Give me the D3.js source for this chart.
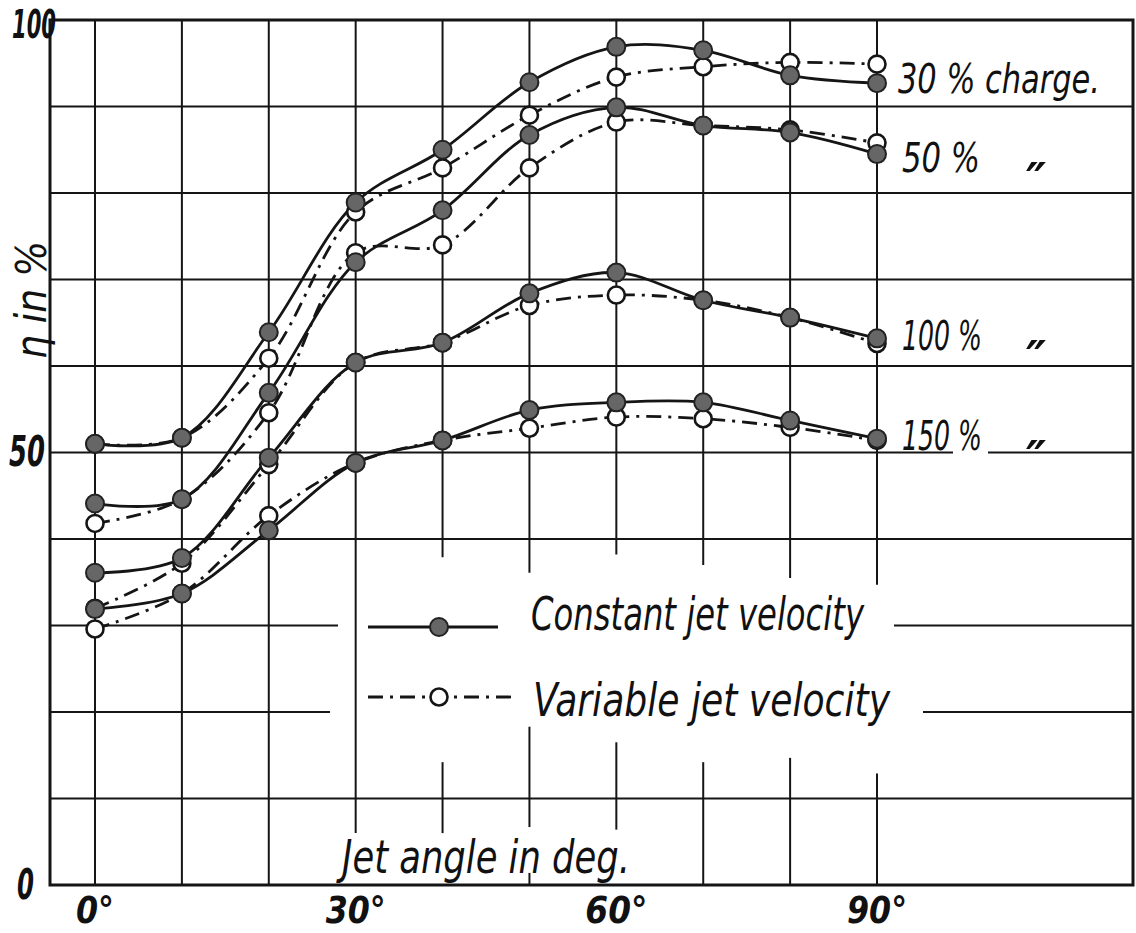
<!DOCTYPE html>
<html>
<head>
<meta charset="utf-8">
<script src="https://cdn.jsdelivr.net/npm/d3@7"></script>
<style>
  body { margin: 0; background: #fff; }
  text { font-family: "Liberation Sans Narrow", "DejaVu Sans Condensed", sans-serif; font-style: italic; fill: #111; }
</style>
</head>
<body>
<div id="vis"></div>
<script>
// Chart data
const ANGLES = [0, 10, 20, 30, 40, 50, 60, 70, 80, 90];

const CONST_30 = [51.0, 51.7, 63.9, 78.9, 85.0, 92.8, 96.9, 96.5, 93.6, 92.7];
const VAR_30   = [51.0, 51.7, 60.9, 77.8, 82.9, 89.0, 93.4, 94.6, 95.1, 94.9];

const CONST_50 = [44.1, 44.6, 56.9, 72.0, 78.0, 86.7, 89.9, 87.8, 87.0, 84.5];
const VAR_50   = [41.8, 44.6, 54.6, 73.1, 74.0, 82.9, 88.2, 87.8, 87.3, 85.8];

const CONST_100 = [36.1, 37.8, 49.4, 60.4, 62.7, 68.4, 70.8, 67.6, 65.6, 63.2];
const VAR_100   = [32.0, 37.2, 48.6, 60.4, 62.7, 67.0, 68.2, 67.6, 65.6, 62.6];

const CONST_150 = [31.9, 33.7, 41.0, 48.8, 51.4, 54.9, 55.8, 55.8, 53.7, 51.6];
const VAR_150   = [29.6, 33.7, 42.7, 48.8, 51.4, 52.8, 54.1, 53.9, 52.9, 51.4];

const CHARGE_LABELS = ["30 % charge.", "50 %", "100 %", "150 %"];
const X_TICKS = [0, 30, 60, 90];
const Y_TICKS = [0, 50, 100];
const H_GRID = [10, 20, 30, 40, 50, 60, 70, 80, 90];
const V_GRID = [0, 10, 20, 30, 40, 50, 60, 70, 80, 90];

// Frame
const WIDTH = 1136, HEIGHT = 933;
const FRAME = d3.select("#vis").append("svg")
                .attr("width", WIDTH)
                .attr("height", HEIGHT);

const LEFT = 50, RIGHT = 1133, TOP = 20, BOTTOM = 885;

const X_SCALE = d3.scaleLinear().domain([0, 90]).range([95, 877]);
const Y_SCALE = d3.scaleLinear().domain([0, 100]).range([BOTTOM, TOP]);

const INK = "#151515";

// broken grid segments (value units) per angle: [from, to]
const V_BREAKS = {
  30: [[6.0, 100]],
  40: [[6.0, 14.2], [37.9, 100]],
  50: [[0, 1.4], [6.7, 18.3], [36.1, 100]],
  60: [[6.4, 16.5], [38.2, 100]],
  70: [[0, 14.2], [37.0, 100]],
  80: [[0, 14.7], [35.5, 100]],
  90: [[0, 12.9], [34.7, 100]]
};
// horizontal breaks in pixel x (lines crossing legend / labels)
const H_BREAKS = {
  20: [[LEFT, 330], [923, RIGHT]],
  30: [[LEFT, 338], [894, RIGHT]],
  50: [[LEFT, 953], [988, RIGHT]]
};

const grid = FRAME.append("g").attr("stroke", INK).attr("stroke-width", 2);

H_GRID.forEach((v) => {
  const segs = H_BREAKS[v] || [[LEFT, RIGHT]];
  segs.forEach((s) => {
    grid.append("line")
        .attr("x1", s[0]).attr("x2", s[1])
        .attr("y1", Y_SCALE(v)).attr("y2", Y_SCALE(v));
  });
});

V_GRID.forEach((a) => {
  const segs = V_BREAKS[a] || [[0, 100]];
  segs.forEach((s) => {
    grid.append("line")
        .attr("x1", X_SCALE(a)).attr("x2", X_SCALE(a))
        .attr("y1", Y_SCALE(s[0])).attr("y2", Y_SCALE(s[1]));
  });
});

// border
FRAME.append("rect")
     .attr("x", LEFT).attr("y", TOP)
     .attr("width", RIGHT - LEFT).attr("height", BOTTOM - TOP)
     .attr("fill", "none")
     .attr("stroke", INK)
     .attr("stroke-width", 3);

// Series
const SERIES = [
  {constant: CONST_30, variable: VAR_30},
  {constant: CONST_50, variable: VAR_50},
  {constant: CONST_100, variable: VAR_100},
  {constant: CONST_150, variable: VAR_150}
];

const LINE = d3.line()
               .x((d) => X_SCALE(d[0]))
               .y((d) => Y_SCALE(d[1]))
               .curve(d3.curveCatmullRom.alpha(0.5));

const pairs = (vals) => ANGLES.map((a, i) => [a, vals[i]]);

const DASH = "15,7,3,7";
const lines = FRAME.append("g").attr("fill", "none").attr("stroke", INK).attr("stroke-width", 2.8);

SERIES.forEach((s) => {
  lines.append("path").attr("d", LINE(pairs(s.variable))).attr("stroke-dasharray", DASH);
  lines.append("path").attr("d", LINE(pairs(s.constant)));
});

// markers: open first, filled on top
const marks = FRAME.append("g");
SERIES.forEach((s) => {
  marks.selectAll(null)
       .data(pairs(s.variable))
       .enter()
       .append("circle")
         .attr("cx", (d) => X_SCALE(d[0]))
         .attr("cy", (d) => Y_SCALE(d[1]))
         .attr("r", 8.5)
         .attr("fill", "#fff")
         .attr("stroke", INK)
         .attr("stroke-width", 2.6);
});
SERIES.forEach((s) => {
  marks.selectAll(null)
       .data(pairs(s.constant))
       .enter()
       .append("circle")
         .attr("cx", (d) => X_SCALE(d[0]))
         .attr("cy", (d) => Y_SCALE(d[1]))
         .attr("r", 9)
         .attr("fill", "#666")
         .attr("stroke", "#222")
         .attr("stroke-width", 2);
});

// Axis labels
const X_LABEL_W = {0: 38, 30: 60, 60: 62, 90: 60};
FRAME.append("g").selectAll("text")
     .data(X_TICKS)
     .enter()
     .append("text")
       .attr("x", (d) => X_SCALE(d) - X_LABEL_W[d] / 2)
       .attr("y", 923)
       .attr("font-size", 38)
       .attr("font-weight", "bold")
       .attr("textLength", (d) => X_LABEL_W[d])
       .attr("lengthAdjust", "spacingAndGlyphs")
       .text((d) => d + "°");

const Y_LABEL_POS = {0: [17, 899, 17], 50: [9, 466, 36], 100: [12, 38, 44]};
FRAME.append("g").selectAll("text")
     .data(Y_TICKS)
     .enter()
     .append("text")
       .attr("x", (d) => Y_LABEL_POS[d][0])
       .attr("y", (d) => Y_LABEL_POS[d][1])
       .attr("font-size", (d) => d === 100 ? 39 : 43)
       .attr("font-weight", "bold")
       .attr("textLength", (d) => Y_LABEL_POS[d][2])
       .attr("lengthAdjust", "spacingAndGlyphs")
       .text((d) => d);

// Y title
FRAME.append("text")
     .attr("transform", "translate(46,300) rotate(-90)")
     .attr("text-anchor", "middle")
     .attr("font-size", 42)
     .text("η in %");

// X title
FRAME.append("text")
     .attr("x", 342).attr("y", 873)
     .attr("font-size", 46)
     .attr("textLength", 288)
     .attr("lengthAdjust", "spacingAndGlyphs")
     .text("Jet angle in deg.");

// Charge labels
const LABEL_POS = [[898, 93, 202], [902, 172, 78], [902, 350, 80], [902, 450, 80]];
CHARGE_LABELS.forEach((t, i) => {
  FRAME.append("text")
       .attr("x", LABEL_POS[i][0]).attr("y", LABEL_POS[i][1])
       .attr("font-size", 40)
       .attr("textLength", LABEL_POS[i][2])
       .attr("lengthAdjust", "spacingAndGlyphs")
       .text(t);
  if (i > 0) {
    FRAME.append("text")
         .attr("x", 1026).attr("y", LABEL_POS[i][1] + 26)
         .attr("font-size", 50)
         .attr("font-weight", "bold")
         .text("″");
  }
});

// Legend
const legend = FRAME.append("g");
legend.append("line")
      .attr("x1", 368).attr("x2", 498).attr("y1", 627).attr("y2", 627)
      .attr("stroke", INK).attr("stroke-width", 2.8);
legend.append("circle")
      .attr("cx", 439).attr("cy", 627).attr("r", 9)
      .attr("fill", "#666").attr("stroke", "#222").attr("stroke-width", 2);
legend.append("text")
      .attr("x", 531).attr("y", 630)
      .attr("font-size", 46)
      .attr("textLength", 333)
      .attr("lengthAdjust", "spacingAndGlyphs")
      .text("Constant jet velocity");

legend.append("line")
      .attr("x1", 368).attr("x2", 517).attr("y1", 697).attr("y2", 697)
      .attr("stroke", INK).attr("stroke-width", 2.8)
      .attr("stroke-dasharray", DASH);
legend.append("circle")
      .attr("cx", 439).attr("cy", 697).attr("r", 8.5)
      .attr("fill", "#fff").attr("stroke", INK).attr("stroke-width", 2.6);
legend.append("text")
      .attr("x", 533).attr("y", 716)
      .attr("font-size", 46)
      .attr("textLength", 357)
      .attr("lengthAdjust", "spacingAndGlyphs")
      .text("Variable jet velocity");
</script>
</body>
</html>
